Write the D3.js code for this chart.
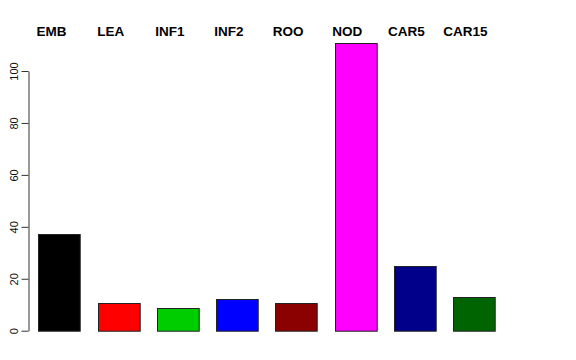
<!DOCTYPE html>
<html>
<head>
<meta charset="utf-8">
<script src="https://cdn.jsdelivr.net/npm/d3@7"></script>
<style>
  body { margin: 0; background: #fff; }
  text { font-family: "Liberation Sans", Arial, sans-serif; }
</style>
</head>
<body>
<div id="chart"></div>
<script>
// data
var categories = ["EMB", "LEA", "INF1", "INF2", "ROO", "NOD", "CAR5", "CAR15"];
var values = [37.4, 10.5, 8.8, 12.3, 10.5, 110.7, 24.9, 12.8];
var barColors = ["#000000", "#ff0000", "#00cd00", "#0000ff", "#8b0000", "#ff00ff", "#00008b", "#006400"];
var yTicks = [0, 20, 40, 60, 80, 100];

var svgWidth = 576;
var svgHeight = 360;

var svg = d3.select("#chart").append("svg")
  .attr("width", svgWidth)
  .attr("height", svgHeight);

// scales
var yScale = d3.scaleLinear()
  .domain([0, 100])
  .range([330.7, 71]);

var xScale = d3.scaleBand()
  .domain(categories)
  .range([29.5, 503.5])
  .paddingInner(0.296)
  .paddingOuter(0.148);

// label positions along the top (a bit left of the bar centres)
var labelScale = d3.scalePoint()
  .domain(categories)
  .range([51.5, 465.5]);

// y axis
var yAxis = d3.axisLeft(yScale)
  .tickValues(yTicks)
  .tickSize(7)
  .tickSizeOuter(0)
  .tickFormat(d3.format("d"));

var yAxisGroup = svg.append("g")
  .attr("transform", "translate(28.5, 0)")
  .call(yAxis);

yAxisGroup.select(".domain").attr("stroke", "#333");
yAxisGroup.selectAll(".tick line").attr("stroke", "#333");

// rotated tick labels, like R's las=0
yAxisGroup.selectAll(".tick text")
  .attr("fill", "#111")
  .style("font-size", "11px")
  .attr("text-anchor", "middle")
  .attr("x", 0)
  .attr("dy", "0")
  .attr("transform", "rotate(-90) translate(0,-10.5)");

// bars
svg.selectAll("rect.bar")
  .data(values)
  .enter()
  .append("rect")
  .attr("class", "bar")
  .attr("x", (d, i) => Math.round(xScale(categories[i])) + 0.5)
  .attr("y", d => Math.round(yScale(d)) + 0.5)
  .attr("width", xScale.bandwidth())
  .attr("height", d => yScale(0) - Math.round(yScale(d)))
  .attr("fill", (d, i) => barColors[i])
  .attr("stroke", "#222")
  .attr("stroke-width", 1);

// category labels on top
svg.selectAll("text.cat")
  .data(categories)
  .enter()
  .append("text")
  .attr("class", "cat")
  .attr("x", d => labelScale(d))
  .attr("y", 36)
  .attr("text-anchor", "middle")
  .style("font-size", "13.5px")
  .style("font-weight", "bold")
  .text(d => d);
</script>
</body>
</html>
